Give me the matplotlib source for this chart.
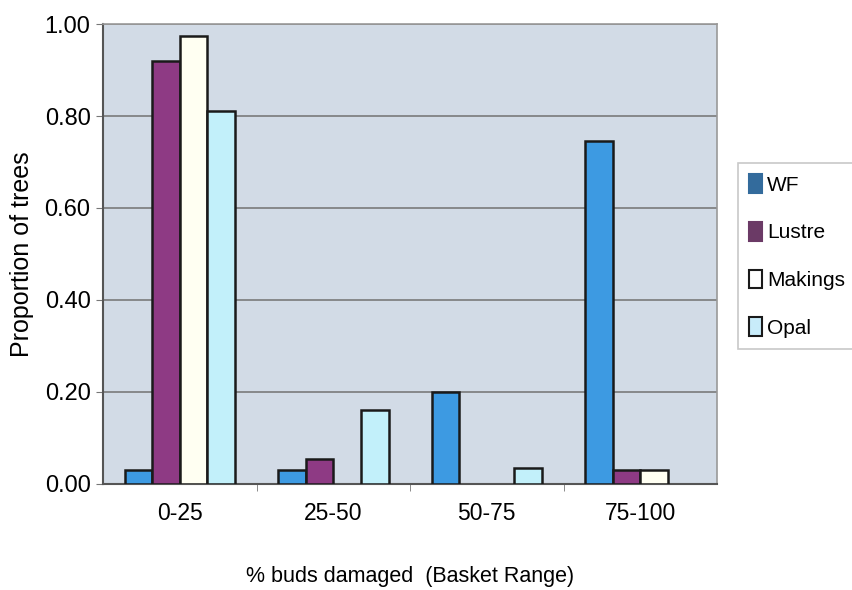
import matplotlib
matplotlib.use("Agg")
import matplotlib.pyplot as plt
import numpy as np
from matplotlib.patches import Patch

categories = ["0-25", "25-50", "50-75", "75-100"]
series_names = ["WF", "Lustre", "Makings", "Opal"]
wf = [0.03, 0.03, 0.20, 0.745]
lustre = [0.92, 0.055, 0.0, 0.03]
makings = [0.975, 0.0, 0.0, 0.03]
opal = [0.81, 0.16, 0.035, 0.0]
yticks = [0.0, 0.2, 0.4, 0.6, 0.8, 1.0]

bar_colors = ["#3d9ae2", "#8e3a84", "#fffff2", "#c2f0fa"]
legend_colors = ["#336b9c", "#6b3a66", "#ffffff", "#c8ecfa"]

plt.rcParams['font.family'] = ['Liberation Sans', 'DejaVu Sans']

fig = plt.figure(figsize=(8.53, 5.9), dpi=100)
ax = fig.add_axes([0.1208, 0.1797, 0.7198, 0.7796])
ax.set_facecolor("#d2dbe6")

x = np.arange(len(categories))
w = 0.18
data = [wf, lustre, makings, opal]
for i, (vals, c) in enumerate(zip(data, bar_colors)):
    v = np.array(vals, dtype=float)
    v = np.where(v > 0, v, np.nan)
    ax.bar(x + (i - 1.5) * w, v, w, color=c, edgecolor="#1a1a1a", linewidth=1.8, zorder=3)

ax.set_xlim(-0.5, 3.5)
ax.set_ylim(0, 1.0)
ax.set_yticks(yticks)
ax.set_yticklabels([f"{v:.2f}" for v in yticks], fontsize=17)
ax.set_xticks(x)
ax.set_xticklabels(categories, fontsize=16.5)
ax.tick_params(axis='x', length=0, pad=13)
ax.set_xticks([0.5, 1.5, 2.5], minor=True)
ax.tick_params(axis='x', which='minor', length=5, color="#777777")
ax.tick_params(axis='y', length=5, color="#777777", pad=4)
ax.yaxis.grid(True, color="#7a7a7a", linewidth=1.2, zorder=0)
ax.set_axisbelow(True)
for s in ["top", "right"]:
    ax.spines[s].set_color("#999999")
    ax.spines[s].set_linewidth(1.2)
for s in ["left", "bottom"]:
    ax.spines[s].set_color("#555555")
    ax.spines[s].set_linewidth(1.5)

ax.set_ylabel("Proportion of trees", fontsize=18)
ax.yaxis.set_label_coords(-0.112, 0.5)
ax.set_xlabel("% buds damaged  (Basket Range)", fontsize=15.5)
ax.xaxis.set_label_coords(0.5, -0.178)

handles = [Patch(facecolor=c, edgecolor="#1a1a1a" if i >= 2 else c, linewidth=1.5)
           for i, c in enumerate(legend_colors)]
leg = fig.legend(handles, series_names, loc="upper left",
                 bbox_to_anchor=(738 / 853, 1 - 163 / 590), fontsize=15,
                 frameon=True, fancybox=False, edgecolor="#bbbbbb",
                 handlelength=0.6, handleheight=1.0, handletextpad=0.25,
                 labelspacing=1.3, borderpad=0.55, borderaxespad=0)
leg.get_frame().set_linewidth(1.2)

fig.savefig("out.png", dpi=100, facecolor="white")
